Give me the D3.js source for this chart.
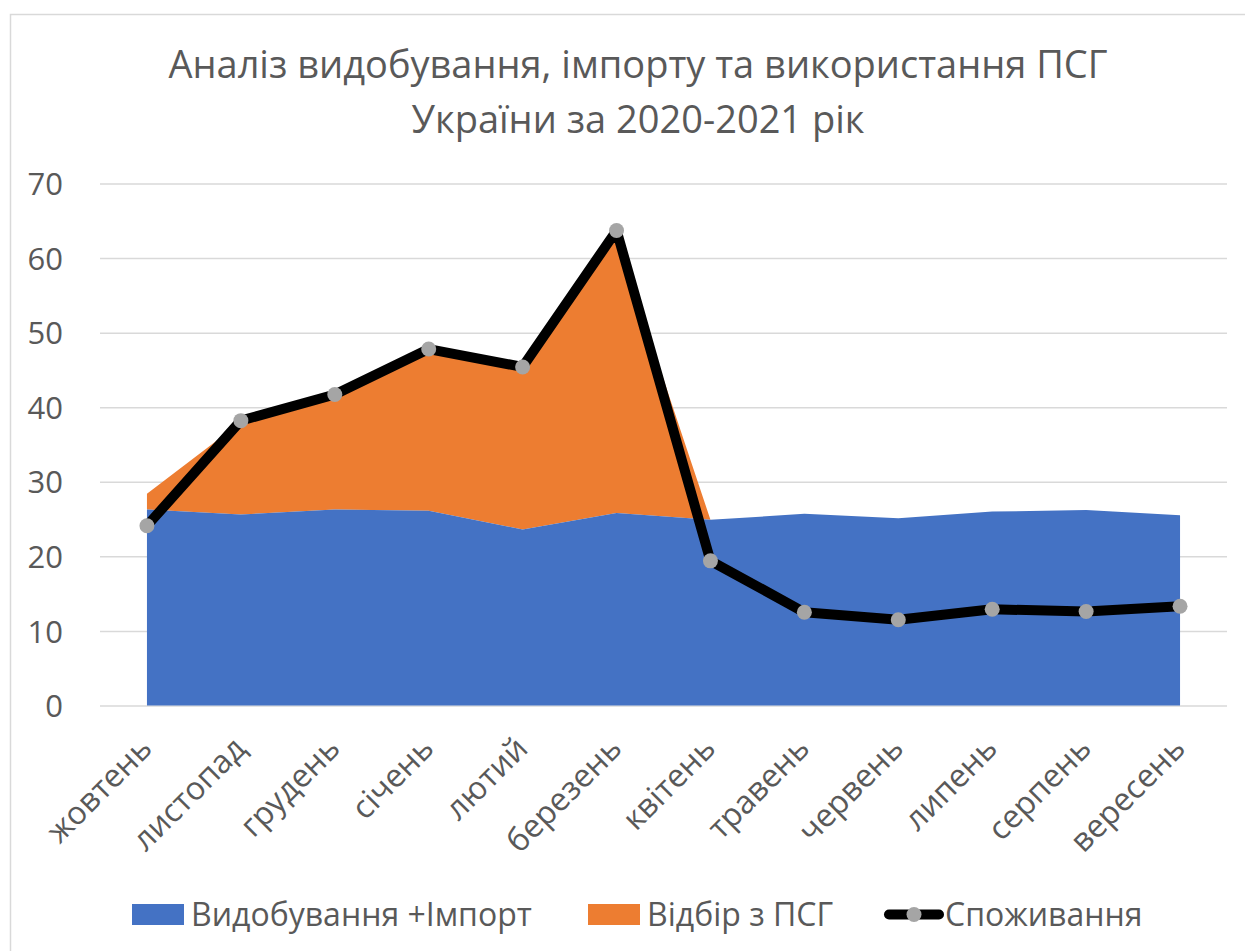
<html>
  <head>
    <script src="https://d3js.org/d3.v7.min.js"></script>
    <title>ПСГ</title>
    <style>
      body { margin: 0; background: #fff; }
      text { font-family: "Open Sans", "Noto Sans", sans-serif; fill: #595959; }
      .gridlines line { stroke: #d9d9d9; stroke-width: 1.5; }
      .gridlines .domain { stroke: none; }
      .axis .domain { stroke: none; }
      .axis text { font-size: 31px; }
      .x.axis text { font-size: 32px; }
      .title { font-size: 38px; }
      .legend text { font-size: 32px; }
    </style>
  </head>
  <body>
    <svg id="chart" width="1245" height="951"></svg>
    <script>
      // data
      const months = ['жовтень','листопад','грудень','січень','лютий','березень','квітень','травень','червень','липень','серпень','вересень'];
      const production = [26.3, 25.6, 26.3, 26.1, 23.6, 25.8, 24.9, 25.7, 25.1, 26.0, 26.2, 25.5];
      const storage    = [2.1, 12.4, 15.0, 21.4, 21.7, 36.8, 0, 0, 0, 0, 0, 0];
      const consumption = [24.1, 38.2, 41.7, 47.8, 45.4, 63.7, 19.4, 12.5, 11.5, 12.9, 12.6, 13.3];
      const seriesNames = ['Видобування +Імпорт', 'Відбір з ПСГ', 'Споживання'];
      const yTicks = [0, 10, 20, 30, 40, 50, 60, 70];
      const titleLines = ['Аналіз видобування, імпорту та використання ПСГ', 'України за 2020-2021 рік'];

      const svg = d3.select("svg#chart");
      const margin = {"top": 183.5, "left": 100, "right": 1227, "bottom": 705.5};

      const colors = ["#4472c4", "#ed7d31"];

      // chart border
      svg.append("rect")
        .attr("x", 10.5).attr("y", 14.5)
        .attr("width", 1300).attr("height", 1000)
        .attr("fill", "none")
        .attr("stroke", "#d9d9d9")
        .attr("stroke-width", 1.5);

      // title
      svg.selectAll("text.title").data(titleLines)
        .join("text")
        .attr("class", "title")
        .attr("text-anchor", "middle")
        .attr("x", 638)
        .attr("y", (d, i) => 78 + i * 55)
        .text(d => d);

      const xBand = d3.scaleBand().domain(months).range([margin.left, margin.right]).padding(0);
      const xPos = m => xBand(m) + xBand.bandwidth() / 2;
      const yScale = d3.scaleLinear().domain([0, 70]).range([margin.bottom, margin.top]);

      // gridlines
      svg.append("g")
        .attr("class", "gridlines")
        .attr("transform", "translate(" + margin.left + ",0)")
        .call(d3.axisLeft(yScale).tickValues(yTicks).tickSize(-(margin.right - margin.left)).tickFormat(""));

      // y axis labels
      svg.append("g")
        .attr("class", "y axis")
        .attr("transform", "translate(" + (margin.left - 37) + ",0)")
        .call(d3.axisLeft(yScale).tickValues(yTicks).tickSize(0).tickPadding(0))
        .selectAll("text").attr("dy", "0.36em");

      // stacked areas
      const rows = months.map((m, i) => ({"month": m, "prod": production[i], "stor": storage[i]}));
      const stacked = d3.stack().keys(["prod", "stor"])(rows);
      const area = d3.area()
        .x(d => xPos(d.data.month))
        .y0(d => yScale(d[0]))
        .y1(d => yScale(d[1]));

      svg.append("g").selectAll("path").data(stacked.slice().reverse())
        .join("path")
        .attr("d", area)
        .attr("fill", d => d.key === "prod" ? colors[0] : colors[1]);

      // consumption line
      const line = d3.line().x((d, i) => xPos(months[i])).y(d => yScale(d));
      svg.append("path")
        .datum(consumption)
        .attr("d", line)
        .attr("fill", "none")
        .attr("stroke", "#000")
        .attr("stroke-width", 10)
        .attr("stroke-linejoin", "round");

      svg.append("g").selectAll("circle").data(consumption)
        .join("circle")
        .attr("cx", (d, i) => xPos(months[i]))
        .attr("cy", d => yScale(d))
        .attr("r", 7.5)
        .attr("fill", "#a5a5a5");

      // month labels
      const xAxis = svg.append("g")
        .attr("class", "x axis")
        .attr("transform", "translate(0," + margin.bottom + ")")
        .call(d3.axisBottom(xBand).tickSize(0).tickPadding(0));
      xAxis.selectAll("text")
        .attr("text-anchor", "end")
        .attr("dy", "0")
        .attr("y", 0)
        .attr("transform", "translate(7,45) rotate(-45)");

      // legend
      const legend = svg.append("g").attr("class", "legend");
      const legendX = [132, 588, 884];
      seriesNames.forEach((name, i) => {
        const g = legend.append("g").attr("transform", "translate(" + legendX[i] + ",914.5)");
        if (i < 2) {
          g.append("rect").attr("x", 0).attr("y", -10.5).attr("width", 52).attr("height", 21).attr("fill", colors[i]);
          g.append("text").attr("x", 59).attr("y", 0).attr("dy", "0.36em").text(name);
        } else {
          g.append("line").attr("x1", 5).attr("x2", 55).attr("y1", 0).attr("y2", 0)
            .attr("stroke", "#000").attr("stroke-width", 10).attr("stroke-linecap", "round");
          g.append("circle").attr("cx", 30).attr("cy", 0).attr("r", 7.5).attr("fill", "#a5a5a5");
          g.append("text").attr("x", 61).attr("y", 0).attr("dy", "0.36em").text(name);
        }
      });
    </script>
  </body>
</html>
